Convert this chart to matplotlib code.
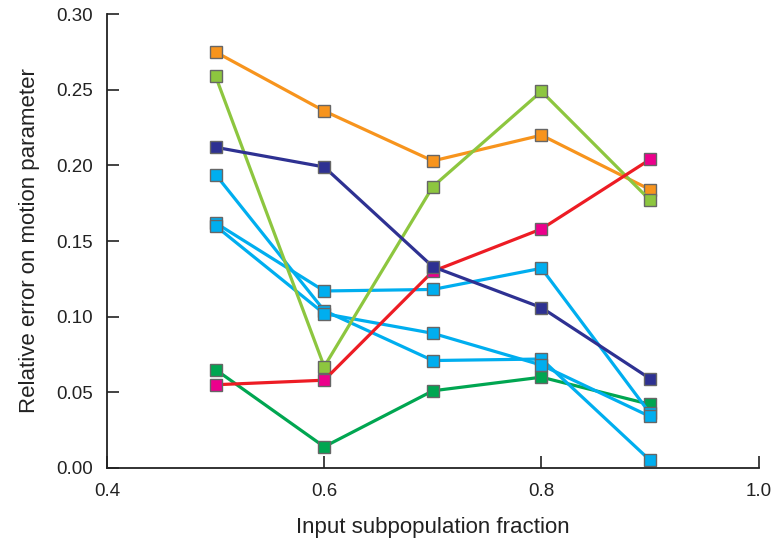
import matplotlib.pyplot as plt

plt.rcParams["font.family"] = ["Liberation Sans", "DejaVu Sans"]

fraction = [0.5, 0.6, 0.7, 0.8, 0.9]

err_dark_green = [0.065, 0.014, 0.051, 0.060, 0.042]
err_cyan_1 = [0.194, 0.104, 0.071, 0.072, 0.005]
err_cyan_2 = [0.162, 0.117, 0.118, 0.132, 0.036]
err_cyan_3 = [0.160, 0.102, 0.089, 0.068, 0.034]
err_orange = [0.275, 0.236, 0.203, 0.220, 0.184]
err_light_green = [0.259, 0.067, 0.186, 0.249, 0.177]
err_red = [0.055, 0.058, 0.130, 0.158, 0.204]
err_navy = [0.212, 0.199, 0.133, 0.106, 0.059]

# (values, line colour, marker colour)
series = [
    (err_dark_green, "#00a651", "#00a651"),
    (err_cyan_1, "#00aeef", "#00aeef"),
    (err_cyan_2, "#00aeef", "#00aeef"),
    (err_cyan_3, "#00aeef", "#00aeef"),
    (err_orange, "#f7941d", "#f7941d"),
    (err_light_green, "#8dc63f", "#8dc63f"),
    (err_red, "#ed1c24", "#ec008c"),
    (err_navy, "#2e3192", "#2e3192"),
]

fig = plt.figure(figsize=(7.75, 5.46), dpi=100)
ax = fig.add_axes([0.138, 0.143, 0.841, 0.831])

for values, lc, mc in series:
    ax.plot(fraction, values, color=lc, lw=2.3, marker="s", markersize=8,
            markerfacecolor=mc, markeredgecolor="#666666", markeredgewidth=1.0)

ax.set_xlim(0.4, 1.0)
ax.set_ylim(0.0, 0.30)
ax.set_xticks([0.4, 0.6, 0.8, 1.0])
ax.set_xticklabels(["0.4", "0.6", "0.8", "1.0"])
ax.set_yticks([0.0, 0.05, 0.10, 0.15, 0.20, 0.25, 0.30])
ax.set_yticklabels(["0.00", "0.05", "0.10", "0.15", "0.20", "0.25", "0.30"])

for side in ("top", "right"):
    ax.spines[side].set_visible(False)
for side in ("left", "bottom"):
    ax.spines[side].set_linewidth(1.3)
    ax.spines[side].set_color("#222222")

ax.tick_params(direction="in", length=8.5, width=1.2, colors="#222222",
               labelsize=13.5, labelcolor="#222222")
ax.tick_params(axis="y", pad=10)
ax.tick_params(axis="x", pad=11)

ax.set_xlabel("Input subpopulation fraction", fontsize=16, color="#222222", labelpad=12)
ax.set_ylabel("Relative error on motion parameter", fontsize=16, color="#222222", labelpad=12)

fig.savefig("out.png", dpi=100)
